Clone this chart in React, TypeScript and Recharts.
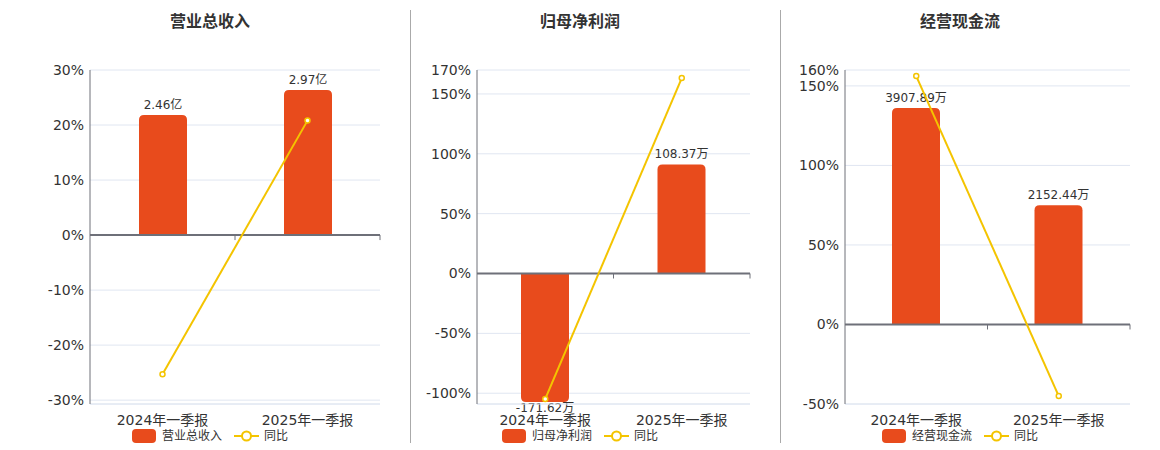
import React from 'react';
import { ComposedChart, Bar, Line, XAxis, YAxis, CartesianGrid, ReferenceLine } from 'recharts';

// ---------- data ----------
const categories = ['2024年一季报', '2025年一季报'];

const revenueValues = [2.46, 2.97]; // 亿
const revenueLabels = ['2.46亿', '2.97亿'];
const revenueYoy = [-25.3, 20.8];
const revenueTicks = [-30, -20, -10, 0, 10, 20, 30];

const profitValues = [-171.62, 108.37]; // 万
const profitLabels = ['-171.62万', '108.37万'];
const profitYoy = [-104.8, 163.3];
const profitTicks = [-100, -50, 0, 50, 100, 150, 170];

const cashValues = [3907.89, 2152.44]; // 万
const cashLabels = ['3907.89万', '2152.44万'];
const cashYoy = [156.2, -45.0];
const cashTicks = [-50, 0, 50, 100, 150, 160];

// ---------- style ----------
const FONT = "'DejaVu Sans', 'Noto Sans CJK SC', sans-serif";
const BAR_COLOR = '#e84b1c';
const LINE_COLOR = '#f4c400';
const AXIS_COLOR = '#6e7079';
const GRID_COLOR = '#e0e6f1';
const TEXT_COLOR = '#333';
const PLOT_TOP = 70;
const PLOT_BOTTOM = 404;
const CHART_H = 450;

type Panel = {
  title: string;
  series: string;
  values: number[];
  labels: string[];
  yoy: number[];
  ticks: number[];
  pctDomain: [number, number];
  barDomain: [number, number];
  left: number;
  width: number;
  yAxisWidth: number;
  cx: number;
};

const panels: Panel[] = [
  {
    title: '营业总收入', series: '营业总收入',
    values: revenueValues, labels: revenueLabels, yoy: revenueYoy, ticks: revenueTicks,
    pctDomain: [-30.7, 30], barDomain: [-3.459, 3.38],
    left: 0, width: 400, yAxisWidth: 90, cx: 210,
  },
  {
    title: '归母净利润', series: '归母净利润',
    values: profitValues, labels: profitLabels, yoy: profitYoy, ticks: profitTicks,
    pctDomain: [-109, 170], barDomain: [-129.7, 202.3],
    left: 400, width: 370, yAxisWidth: 77, cx: 580,
  },
  {
    title: '经营现金流', series: '经营现金流',
    values: cashValues, labels: cashLabels, yoy: cashYoy, ticks: cashTicks,
    pctDomain: [-50, 160], barDomain: [-1436, 4594],
    left: 780, width: 370, yAxisWidth: 65, cx: 960,
  },
];

const barShape = (props: any) => {
  const { x, y, width, height, payload } = props;
  const v = payload.value;
  const neg = v < 0;
  let top = Math.min(y, y + height);
  let bottom = Math.max(y, y + height);
  top = Math.max(top, PLOT_TOP);
  bottom = Math.min(bottom, PLOT_BOTTOM - 2);
  const r = Math.max(0, Math.min(5, (bottom - top) / 2, width / 2));
  const xr = x + width;
  let d: string;
  if (!neg) {
    d = `M${x},${bottom} L${x},${top + r} Q${x},${top} ${x + r},${top} L${xr - r},${top} Q${xr},${top} ${xr},${top + r} L${xr},${bottom} Z`;
  } else {
    d = `M${x},${top} L${xr},${top} L${xr},${bottom - r} Q${xr},${bottom} ${xr - r},${bottom} L${x + r},${bottom} Q${x},${bottom} ${x},${bottom - r} Z`;
  }
  const ty = neg ? bottom + 10 : top - 6;
  return (
    <g>
      <path d={d} fill={BAR_COLOR} />
      <text x={x + width / 2} y={ty} textAnchor="middle" fontSize={12} fill={TEXT_COLOR} fontFamily={FONT}>
        {payload.label}
      </text>
    </g>
  );
};

const zeroLineShape = (p: any) => {
  const { x1, y1, x2, y2 } = p;
  const n = categories.length;
  const marks = [];
  for (let k = 1; k <= n; k++) {
    const tx = x1 + ((x2 - x1) * k) / n;
    marks.push(<line key={k} x1={tx} y1={y1} x2={tx} y2={y1 + 5} stroke={AXIS_COLOR} strokeWidth={1} />);
  }
  return (
    <g>
      <line x1={x1} y1={y1} x2={x2} y2={y2} stroke={AXIS_COLOR} strokeWidth={2} />
      {marks}
    </g>
  );
};

function PanelChart({ p }: { p: Panel }) {
  const data = categories.map((name, i) => ({
    name,
    value: p.values[i],
    label: p.labels[i],
    yoy: p.yoy[i],
  }));
  // bars that run past the axis end are drawn up to the axis end (display rule, data unchanged)
  const barMin = p.barDomain[0];
  const barMax = p.barDomain[1];
  const drawnValue = (d: any) => Math.min(Math.max(d.value, barMin), barMax);
  return (
    <div style={{ position: 'absolute', left: p.left, top: 0, width: p.width, height: CHART_H }}>
      <ComposedChart
        width={p.width}
        height={CHART_H}
        data={data}
        margin={{ top: PLOT_TOP, right: 20, bottom: 16, left: 0 }}
        style={{ fontFamily: FONT }}
      >
        <CartesianGrid vertical={false} stroke={GRID_COLOR} yAxisId="pct" />
        <XAxis
          dataKey="name"
          axisLine={false}
          tickLine={false}
          tickSize={0}
          tickMargin={11}
          height={30}
          interval={0}
          tick={{ fontSize: 14, fill: TEXT_COLOR, fontFamily: FONT }}
        />
        <YAxis
          yAxisId="pct"
          type="number"
          domain={p.pctDomain}
          ticks={p.ticks}
          interval={0}
          width={p.yAxisWidth}
          axisLine={{ stroke: AXIS_COLOR }}
          tickLine={false}
          tickSize={0}
          tickMargin={6}
          tickFormatter={(v: number) => `${v}%`}
          tick={{ fontSize: 14, fill: TEXT_COLOR, fontFamily: FONT }}
        />
        <YAxis yAxisId="bar" orientation="right" type="number" domain={p.barDomain} hide />
        <ReferenceLine yAxisId="pct" y={p.pctDomain[0]} stroke={GRID_COLOR} />
        <Bar
          yAxisId="bar"
          dataKey={drawnValue}
          name={p.series}
          barSize={48}
          fill={BAR_COLOR}
          shape={barShape}
          isAnimationActive={false}
        />
        <ReferenceLine yAxisId="pct" y={0} shape={zeroLineShape} />
        <Line
          yAxisId="pct"
          dataKey="yoy"
          name="同比"
          type="linear"
          stroke={LINE_COLOR}
          strokeWidth={2}
          dot={{ r: 2.5, fill: '#fff', stroke: LINE_COLOR, strokeWidth: 1.5 }}
          activeDot={false}
          isAnimationActive={false}
        />
      </ComposedChart>
    </div>
  );
}

function Title({ p }: { p: Panel }) {
  return (
    <div
      style={{
        position: 'absolute', left: p.cx - 100, top: 12, width: 200, textAlign: 'center',
        fontSize: 16, lineHeight: '20px', fontWeight: 'bold', color: TEXT_COLOR, fontFamily: FONT,
      }}
    >
      {p.title}
    </div>
  );
}

function Legend({ p }: { p: Panel }) {
  return (
    <div
      style={{
        position: 'absolute', left: p.cx - 150, top: 429, width: 300, height: 14,
        display: 'flex', justifyContent: 'center', alignItems: 'center',
        fontSize: 12, lineHeight: '14px', color: TEXT_COLOR, fontFamily: FONT,
      }}
    >
      <span style={{ display: 'inline-block', width: 24, height: 14, borderRadius: 4, background: BAR_COLOR }} />
      <span style={{ marginLeft: 6 }}>{p.series}</span>
      <svg width={25} height={14} style={{ marginLeft: 12 }}>
        <line x1={0} y1={7} x2={25} y2={7} stroke={LINE_COLOR} strokeWidth={2} />
        <circle cx={12.5} cy={7} r={4.5} fill="#fff" stroke={LINE_COLOR} strokeWidth={2} />
      </svg>
      <span style={{ marginLeft: 5 }}>同比</span>
    </div>
  );
}

export default function App() {
  return (
    <div style={{ position: 'absolute', left: 0, top: 0, width: 1160, height: 450, background: '#fff', fontFamily: FONT }}>
      {panels.map((p) => (
        <PanelChart key={p.title} p={p} />
      ))}
      {panels.map((p) => (
        <Title key={'t' + p.title} p={p} />
      ))}
      {panels.map((p) => (
        <Legend key={'l' + p.title} p={p} />
      ))}
      <div style={{ position: 'absolute', left: 410, top: 10, width: 1, height: 433, background: '#aaa' }} />
      <div style={{ position: 'absolute', left: 780, top: 10, width: 1, height: 433, background: '#aaa' }} />
    </div>
  );
}
